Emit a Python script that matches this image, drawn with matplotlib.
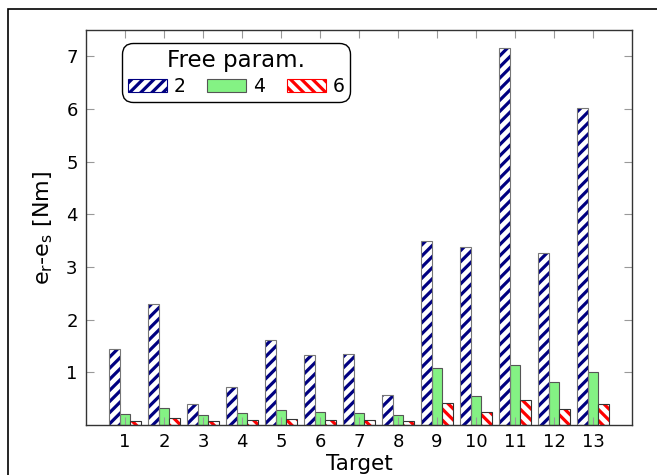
import numpy as np
import matplotlib
matplotlib.use('Agg')
import matplotlib.pyplot as plt
from matplotlib.patches import Rectangle

targets = np.arange(1, 14)
tick_labels = [str(t) for t in targets]
err_2 = [1.44, 2.30, 0.40, 0.72, 1.61, 1.32, 1.35, 0.57, 3.49, 3.38, 7.15, 3.27, 6.02]
err_4 = [0.20, 0.33, 0.19, 0.23, 0.28, 0.25, 0.22, 0.19, 1.09, 0.56, 1.13, 0.81, 1.01]
err_6 = [0.08, 0.13, 0.07, 0.10, 0.11, 0.10, 0.09, 0.08, 0.41, 0.24, 0.47, 0.30, 0.40]

plt.rcParams['hatch.linewidth'] = 2.3

fig = plt.figure(figsize=(6.57, 4.75), dpi=100)
ax = fig.add_axes([86 / 657, 1 - 425 / 475, 546 / 657, 395 / 475])

# outer frame of the original figure
fig.patches.append(Rectangle((8 / 657, -0.1), 1.2, 1 - 9 / 475 + 0.1,
                             transform=fig.transFigure, fill=False,
                             edgecolor='black', linewidth=1.2))

w = 0.28
b2 = ax.bar(targets - w, err_2, w, color='white', edgecolor='navy',
            hatch='///', linewidth=0, label='2')
b4 = ax.bar(targets, err_4, w, color='#84f284', edgecolor='#555555',
            linewidth=0.8, label='4')
b6 = ax.bar(targets + w, err_6, w, color='white', edgecolor='red',
            hatch='\\\\\\', linewidth=0, label='6')
# thin outlines around hatched bars
ax.bar(targets - w, err_2, w, color='none', edgecolor='#777777', linewidth=0.8)
ax.bar(targets + w, err_6, w, color='none', edgecolor='#333333', linewidth=0.8)

ax.set_xlim(0, 14)
ax.set_ylim(0, 7.5)
ax.set_xticks(targets)
ax.set_xticklabels(tick_labels)
ax.set_yticks(range(1, 8))
ax.tick_params(direction='in', length=6, color='#999999', labelsize=13,
               top=True, right=True, pad=6)
for s in ax.spines.values():
    s.set_color('#333333')
    s.set_linewidth(1.0)

ax.set_xlabel('Target', fontsize=15.5, labelpad=2)
ax.set_ylabel(r'e$_\mathregular{r}$-e$_\mathregular{s}$ [Nm]', fontsize=16, labelpad=8)

leg = ax.legend(handles=[b2, b4, b6], title='Free param.', ncol=3,
                loc='upper left', bbox_to_anchor=(0.066, 0.967),
                borderaxespad=0, fontsize=13.5, title_fontsize=16.5,
                fancybox=True, handlelength=2.1, handleheight=0.7,
                handletextpad=0.35, columnspacing=1.15, borderpad=0.3,
                labelspacing=0.3, framealpha=1)
leg.get_frame().set_edgecolor('black')
leg.get_frame().set_linewidth(1.0)
leg.get_frame().set_boxstyle('round', pad=0, rounding_size=0.6)
for h in leg.legend_handles:
    h.set_linewidth(0.8)

fig.savefig('out.png', dpi=100)
